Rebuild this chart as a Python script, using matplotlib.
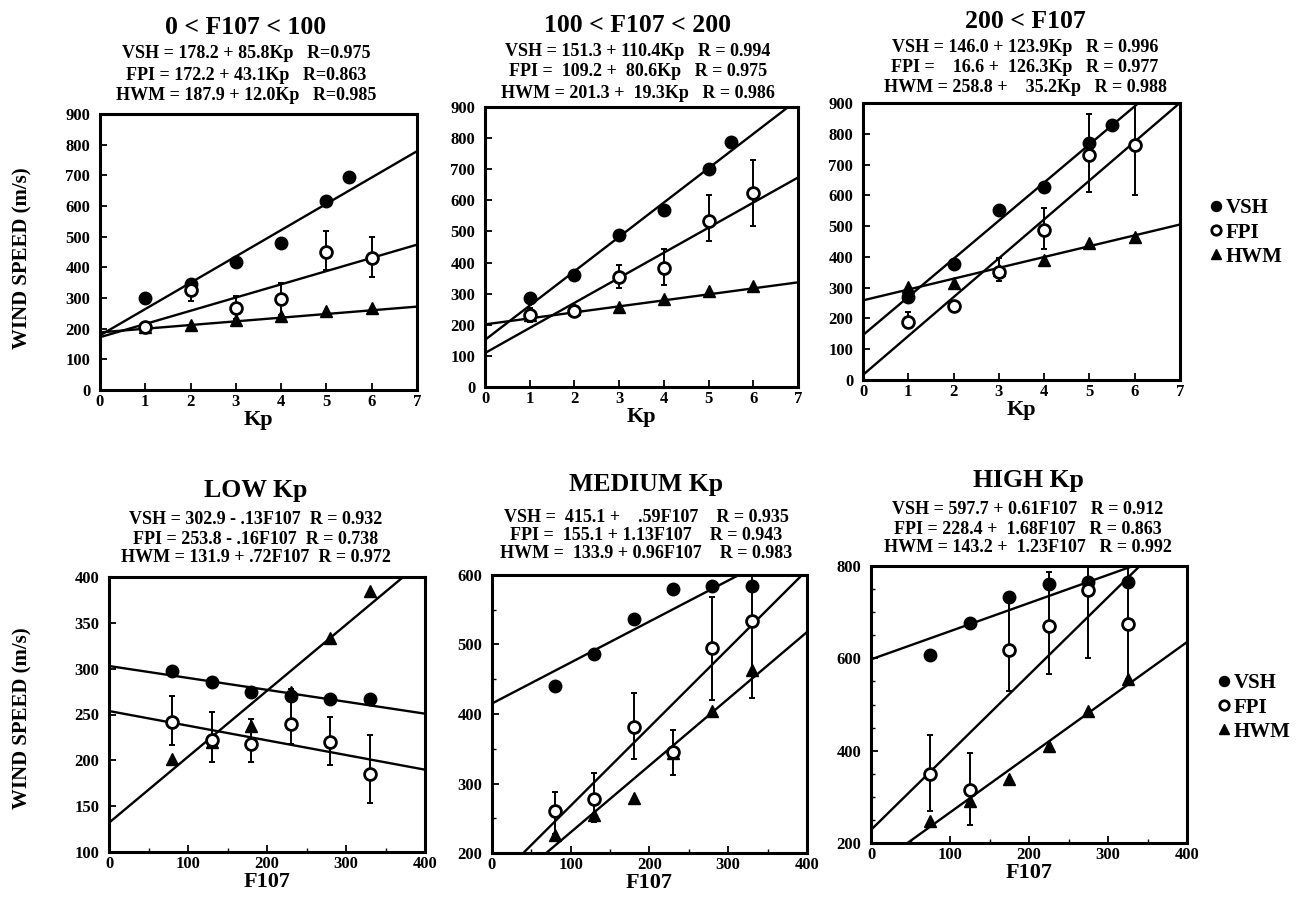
import numpy as np
import matplotlib.pyplot as plt
from matplotlib.ticker import MultipleLocator

plt.rcParams['font.family'] = ['Liberation Serif', 'DejaVu Serif']
plt.rcParams['font.weight'] = 'bold'

W, H = 1302, 899

# ---- top row: wind speed vs Kp for three F107 ranges ----
kp_vsh = [1, 2, 3, 4, 5, 5.5]
kp_obs = [1, 2, 3, 4, 5, 6]

vsh1 = [299, 345, 419, 479, 615, 696]
fpi1 = [205, 325, 268, 298, 450, 430]
fpi1_lo = [190, 290, 230, 245, 390, 368]
fpi1_hi = [222, 355, 305, 350, 520, 500]
hwm1 = [205, 213, 228, 242, 258, 268]

vsh2 = [286, 359, 488, 568, 702, 788]
fpi2 = [232, 243, 354, 383, 534, 622]
fpi2_lo = [210, 230, 318, 328, 470, 516]
fpi2_hi = [255, 255, 393, 443, 617, 730]
hwm2 = [230, 250, 257, 282, 308, 324]

vsh3 = [270, 378, 553, 626, 770, 830]
fpi3 = [187, 239, 352, 488, 730, 762]
fpi3_lo = [170, 222, 323, 425, 612, 600]
fpi3_hi = [220, 258, 395, 558, 865, 900]
hwm3 = [302, 315, 358, 390, 445, 466]

# ---- bottom row: wind speed vs F107 for three Kp levels ----
f107_a = [80, 130, 180, 230, 280, 330]
f107_b = [75, 125, 175, 225, 275, 325]

vsh4 = [297, 285, 275, 270, 267, 267]
fpi4 = [242, 222, 218, 240, 220, 185]
fpi4_lo = [217, 198, 198, 218, 195, 153]
fpi4_hi = [270, 253, 245, 278, 247, 228]
hwm4 = [202, 220, 238, 275, 333, 385]

vsh5 = [440, 487, 536, 580, 584, 584]
fpi5 = [260, 277, 382, 345, 495, 534]
fpi5_lo = [228, 245, 335, 312, 420, 423]
fpi5_hi = [288, 315, 430, 377, 568, 600]
hwm5 = [226, 254, 279, 344, 405, 463]

vsh6 = [607, 677, 732, 761, 766, 766]
fpi6 = [349, 314, 618, 669, 748, 674]
fpi6_lo = [270, 240, 530, 565, 600, 555]
fpi6_hi = [433, 395, 735, 786, 800, 800]
hwm6 = [248, 290, 338, 411, 485, 555]

# regression coefficients (intercept, slope) for VSH, FPI, HWM
coef1 = [(178.2, 85.8), (172.2, 43.1), (187.9, 12.0)]
coef2 = [(151.3, 110.4), (109.2, 80.6), (201.3, 19.3)]
coef3 = [(146.0, 123.9), (16.6, 126.3), (258.8, 35.2)]
coef4 = [(302.9, -0.13), (253.8, -0.16), (131.9, 0.72)]
coef5 = [(415.1, 0.59), (155.1, 1.13), (133.9, 0.96)]
coef6 = [(597.7, 0.61), (228.4, 1.68), (143.2, 1.23)]

titles = ['0 < F107 < 100', '100 < F107 < 200', '200 < F107',
          'LOW Kp', 'MEDIUM Kp', 'HIGH Kp']
eqs = [
    ['VSH = 178.2 + 85.8Kp   R=0.975',
     'FPI = 172.2 + 43.1Kp   R=0.863',
     'HWM = 187.9 + 12.0Kp   R=0.985'],
    ['VSH = 151.3 + 110.4Kp   R = 0.994',
     'FPI =  109.2 +  80.6Kp   R = 0.975',
     'HWM = 201.3 +  19.3Kp   R = 0.986'],
    ['VSH = 146.0 + 123.9Kp   R = 0.996',
     'FPI =    16.6 +  126.3Kp   R = 0.977',
     'HWM = 258.8 +    35.2Kp   R = 0.988'],
    ['VSH = 302.9 - .13F107  R = 0.932',
     'FPI = 253.8 - .16F107  R = 0.738',
     'HWM = 131.9 + .72F107  R = 0.972'],
    ['VSH =  415.1 +    .59F107    R = 0.935',
     'FPI =  155.1 + 1.13F107    R = 0.943',
     'HWM =  133.9 + 0.96F107    R = 0.983'],
    ['VSH = 597.7 + 0.61F107   R = 0.912',
     'FPI = 228.4 +  1.68F107   R = 0.863',
     'HWM = 143.2 +  1.23F107   R = 0.992'],
]

panels = [
    (kp_vsh, kp_obs, vsh1, fpi1, fpi1_lo, fpi1_hi, hwm1, coef1),
    (kp_vsh, kp_obs, vsh2, fpi2, fpi2_lo, fpi2_hi, hwm2, coef2),
    (kp_vsh, kp_obs, vsh3, fpi3, fpi3_lo, fpi3_hi, hwm3, coef3),
    (f107_a, f107_a, vsh4, fpi4, fpi4_lo, fpi4_hi, hwm4, coef4),
    (f107_a, f107_a, vsh5, fpi5, fpi5_lo, fpi5_hi, hwm5, coef5),
    (f107_b, f107_b, vsh6, fpi6, fpi6_lo, fpi6_hi, hwm6, coef6),
]

# axes boxes in pixels: left, top, right, bottom
boxes = [(100, 114, 417, 390), (485, 107, 798, 387), (863, 103, 1180, 380),
         (109, 577, 425, 852), (492, 575, 807, 853), (871, 566, 1187, 843)]
ylims = [(0, 900), (0, 900), (0, 900), (100, 400), (200, 600), (200, 800)]
ysteps = [100, 100, 100, 50, 100, 200]
title_y = [28, 25, 22, 490, 485, 480]
eq_y = [(53, 75, 96), (51, 72, 93), (48, 68, 88),
        (520, 539, 558), (518, 536, 554), (510, 529, 548)]
centers = [246, 638, 1025, 256, 646, 1028]

fig = plt.figure(figsize=(W / 100, H / 100), dpi=100)
axes = []
for i, (xv, xo, vsh, fpi, flo, fhi, hwm, coef) in enumerate(panels):
    l, t, r, b = boxes[i]
    ax = fig.add_axes([l / W, 1 - b / H, (r - l) / W, (b - t) / H])
    axes.append(ax)
    top = i < 3
    xmax = 7 if top else 400
    xx = np.array([0, xmax])
    for a0, a1 in coef:
        ax.plot(xx, a0 + a1 * xx, color='black', lw=1.7, zorder=2)
    fpi = np.array(fpi)
    yerr = [fpi - np.array(flo), np.array(fhi) - fpi]
    ax.errorbar(xo, fpi, yerr=yerr, fmt='none', ecolor='black',
                elinewidth=1.4, capsize=2.5, capthick=1.4, zorder=3)
    ax.plot(xv, vsh, 'o', color='black', ms=9, zorder=4, label='VSH')
    ax.plot(xo, fpi, 'o', mfc='white', mec='black', mew=2, ms=8.5,
            zorder=5, label='FPI')
    ax.plot(xo, hwm, '^', color='black', ms=8.5, zorder=4, label='HWM')

    ax.set_xlim(0, xmax)
    ax.set_ylim(*ylims[i])
    ax.yaxis.set_major_locator(MultipleLocator(ysteps[i]))
    if top:
        ax.xaxis.set_major_locator(MultipleLocator(1))
        ax.set_xlabel('Kp', fontsize=16, fontweight='bold', labelpad=0)
    else:
        ax.xaxis.set_major_locator(MultipleLocator(100))
        ax.xaxis.set_minor_locator(MultipleLocator(50))
        if i != 3:
            ax.yaxis.set_minor_locator(MultipleLocator(50))
        ax.set_xlabel('F107', fontsize=16, fontweight='bold', labelpad=0)
    ax.tick_params(direction='in', length=5, width=1.3, labelsize=12)
    ax.tick_params(axis='y', pad=7)
    ax.tick_params(axis='x', pad=3)
    ax.tick_params(which='minor', direction='in', length=3, width=1)
    for s in ax.spines.values():
        s.set_linewidth(2.2)
    for lab in ax.get_xticklabels() + ax.get_yticklabels():
        lab.set_fontweight('bold')

    fig.text(centers[i] / W, 1 - title_y[i] / H, titles[i], ha='center',
             va='center', fontsize=18.5, fontweight='bold')
    for line, yy in zip(eqs[i], eq_y[i]):
        fig.text(centers[i] / W, 1 - yy / H, line, ha='center', va='center',
                 fontsize=13, fontweight='bold')

fig.text(22 / W, 1 - 258 / H, 'WIND SPEED (m/s)', rotation=90, ha='center',
         va='center', fontsize=15, fontweight='bold')
fig.text(22 / W, 1 - 718 / H, 'WIND SPEED (m/s)', rotation=90, ha='center',
         va='center', fontsize=15, fontweight='bold')

for ax, (x0, y0) in [(axes[2], (1200, 188)), (axes[5], (1208, 663))]:
    h, lbl = ax.get_legend_handles_labels()
    fig.legend(h, lbl, loc='upper left', bbox_to_anchor=(x0 / W, 1 - y0 / H),
               frameon=False, handlelength=0.5, handletextpad=0.25,
               labelspacing=0.2, borderpad=0, markerscale=0.8,
               prop={'size': 15, 'weight': 'bold'})

fig.savefig('out.png', dpi=100)
